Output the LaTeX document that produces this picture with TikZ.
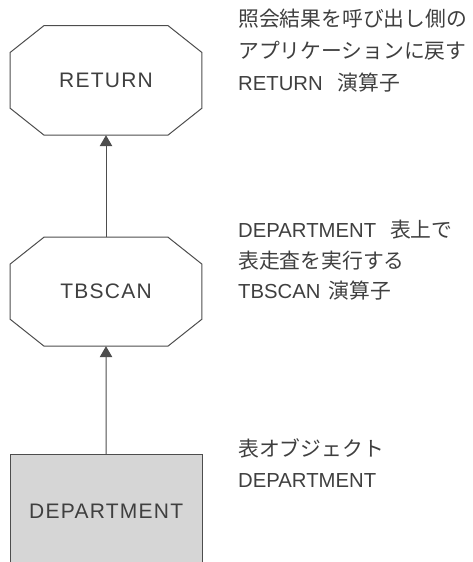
\documentclass[tikz,border=0pt]{standalone}
\usepackage{fontspec}
\setmainfont{Liberation Sans}
\newfontfamily\jpfont{Noto Sans CJK JP}
\newfontfamily\boxfont[LetterSpace=6]{Liberation Sans}
\usetikzlibrary{calc,arrows.meta}
\definecolor{txt}{HTML}{3F3F3F}
\definecolor{edge}{HTML}{4D4D4D}
\definecolor{boxfill}{HTML}{D6D6D6}
\newcommand\jp[1]{{\jpfont\fontsize{20.8}{31}\selectfont #1}}
\tikzset{
  lbl/.style={anchor=base west, inner sep=0pt, text=txt, font=\fontsize{20.3}{31}\selectfont},
  opnode/.style={shape=rectangle, inner sep=0pt, minimum width=191.4pt, minimum height=109.3pt,
                 text=txt, font=\boxfont\fontsize{21}{25}\selectfont},
  octo/.style={draw=edge, line width=1pt, line join=miter},
  tablenode/.style={draw=edge, fill=boxfill, line width=1pt, inner sep=0pt,
                 minimum width=191.7pt, minimum height=112.3pt,
                 text=txt, font=\boxfont\fontsize{21}{25}\selectfont},
  link/.style={draw=edge, line width=1pt, -{Triangle[length=11pt,width=12.5pt]}},
}
\begin{document}
\begin{tikzpicture}[x=1pt,y=-1pt]
\useasboundingbox (0,0) rectangle (472,562);
% operator nodes
\node[opnode] (ret) at (106,80.35) {RETURN};
\draw[octo] ($(ret.north west)+(34,0)$) -- ($(ret.north east)+(-34,0)$)
  -- ($(ret.north east)+(0,27)$) -- ($(ret.south east)+(0,-27)$)
  -- ($(ret.south east)+(-34,0)$) -- ($(ret.south west)+(34,0)$)
  -- ($(ret.south west)+(0,-27)$) -- ($(ret.north west)+(0,27)$) -- cycle;
\node[opnode, minimum height=108.7pt] (tb) at (106,291.65) {TBSCAN};
\draw[octo] ($(tb.north west)+(34,0)$) -- ($(tb.north east)+(-34,0)$)
  -- ($(tb.north east)+(0,27)$) -- ($(tb.south east)+(0,-27)$)
  -- ($(tb.south east)+(-34,0)$) -- ($(tb.south west)+(34,0)$)
  -- ($(tb.south west)+(0,-27)$) -- ($(tb.north west)+(0,27)$) -- cycle;
\node[tablenode] (dep) at (106.15,510.85) {DEPARTMENT};
% connectors
\draw[link] (dep.north) -- (tb.south);
\draw[link] (tb.north) -- (ret.south);
% descriptions
\node[lbl] (t1a) at (238,27) {\jp{照会結果を呼び出し側の}};
\node[lbl] (t1b) at (238,58) {\jp{アプリケーションに戻す}};
\node[lbl] (t1c) at (238,90) {RETURN\hspace{15pt}\jp{演算子}};
\node[lbl] (t2a) at (238,237) {DEPARTMENT\hspace{14pt}\jp{表上で}};
\node[lbl] (t2b) at (238,268) {\jp{表走査を実行する}};
\node[lbl] (t2c) at (238,298) {TBSCAN\hspace{8pt}\jp{演算子}};
\node[lbl] (t3a) at (238,456) {\jp{表オブジェクト}};
\node[lbl] (t3b) at (238,487) {DEPARTMENT};
\end{tikzpicture}
\end{document}
